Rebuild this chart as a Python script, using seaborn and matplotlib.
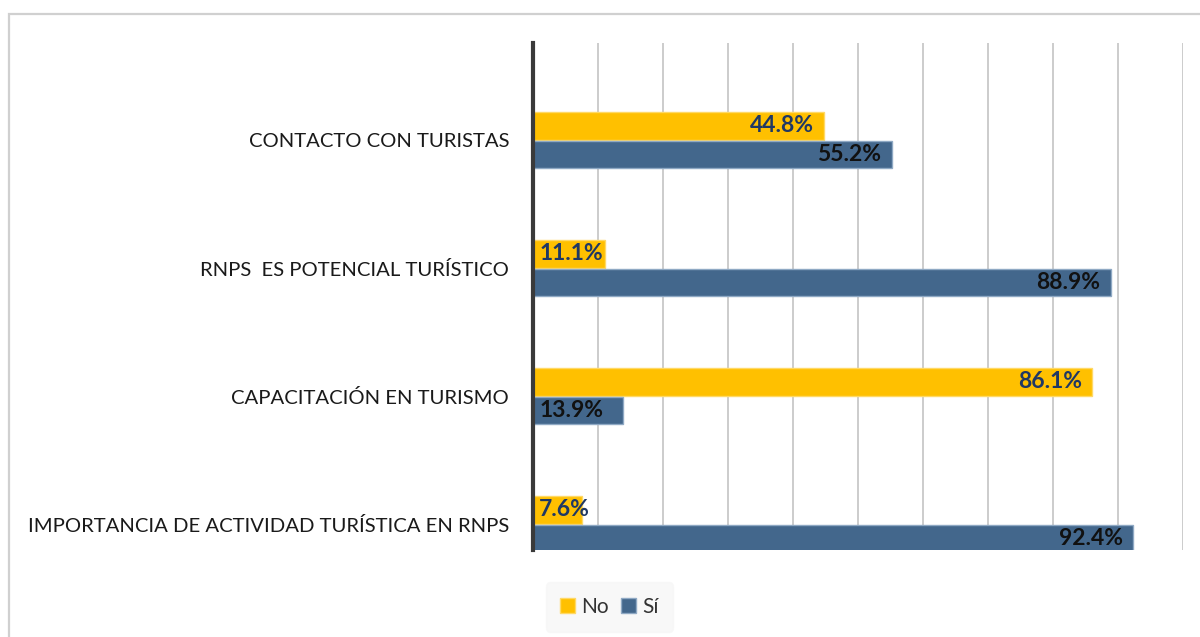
import numpy as np
import pandas as pd
import matplotlib.pyplot as plt
from matplotlib.patches import Rectangle
import seaborn as sns

sns.set_style("white")
plt.rcParams['font.family'] = ['Lato', 'DejaVu Sans']

categories = ["CONTACTO CON TURISTAS", "RNPS  ES POTENCIAL TURÍSTICO",
              "CAPACITACIÓN EN TURISMO", "IMPORTANCIA DE ACTIVIDAD TURÍSTICA EN RNPS"]
no_vals = [44.8, 11.1, 86.1, 7.6]
si_vals = [55.2, 88.9, 13.9, 92.4]
series = ["No", "Sí"]
colors = {"No": "#FFC000", "Sí": "#43678C"}
label_colors = {"No": "#1F3864", "Sí": "#111111"}

df = pd.DataFrame({
    "Categoria": categories * 2,
    "Serie": ["No"] * len(categories) + ["Sí"] * len(categories),
    "Valor": no_vals + si_vals,
})

fig = plt.figure(figsize=(12, 6.37), dpi=100)
ax = fig.add_axes([0.444, 0.1366, 0.5417, 0.796])

sns.barplot(data=df, y="Categoria", x="Valor", hue="Serie", orient="h",
            palette=colors, width=0.45, gap=0.05, ax=ax, legend=False,
            linewidth=1, edgecolor="#8fa9c4", saturation=1)
# yellow bars get a lighter edge
for bar, serie in zip(ax.patches, ["No"] * 4 + ["Sí"] * 4):
    if serie == "No":
        bar.set_edgecolor("#ffd966")

ax.set_xlim(0, 100)
ax.set_ylim(3.2, -0.76)
ax.set_xticks(np.arange(0, 101, 10))
ax.set_xticklabels([])
ax.xaxis.grid(True, color="#c4c4c4", linewidth=1.2)
ax.set_axisbelow(True)
ax.tick_params(axis="x", length=4, color="#a0a0a0", width=1)
ax.tick_params(axis="y", length=0, pad=17, labelsize=14.6, labelcolor="#1a1a1a")
ax.set_xlabel("")
ax.set_ylabel("")
for s in ["top", "right", "bottom"]:
    ax.spines[s].set_visible(False)
ax.spines["left"].set_color("#3a3a3a")
ax.spines["left"].set_linewidth(3)

# data labels
for bar, serie in zip(ax.patches, ["No"] * 4 + ["Sí"] * 4):
    w = bar.get_width()
    yc = bar.get_y() + bar.get_height() / 2
    if w < 15:
        ax.text(1.0, yc, f"{w:.1f}%", ha="left", va="center", fontsize=16.5,
                fontweight="bold", color=label_colors[serie])
    else:
        ax.text(w - 1.6, yc, f"{w:.1f}%", ha="right", va="center", fontsize=16.5,
                fontweight="bold", color=label_colors[serie])

# legend
handles = [Rectangle((0, 0), 1, 1, facecolor=colors[s], edgecolor="#ffd966" if s == "No" else "#8fa9c4")
           for s in series]
leg = fig.legend(handles, series, loc="center", bbox_to_anchor=(0.508, 0.047), ncol=2,
                 frameon=True, fontsize=15, handlelength=0.7, handleheight=0.7,
                 handletextpad=0.3, columnspacing=0.6, borderpad=0.7)
leg.get_frame().set_facecolor("#f7f7f7")
leg.get_frame().set_edgecolor("#f7f7f7")
for t in leg.get_texts():
    t.set_color("#333333")

# outer chart border (cropped on right and bottom)
fig.patches.append(Rectangle((0.0075, -0.02), 1.1, 1.0 - 0.0225 + 0.02, transform=fig.transFigure,
                             fill=False, edgecolor="#d0d0d0", linewidth=1.6))

fig.savefig("out.png", dpi=100)
